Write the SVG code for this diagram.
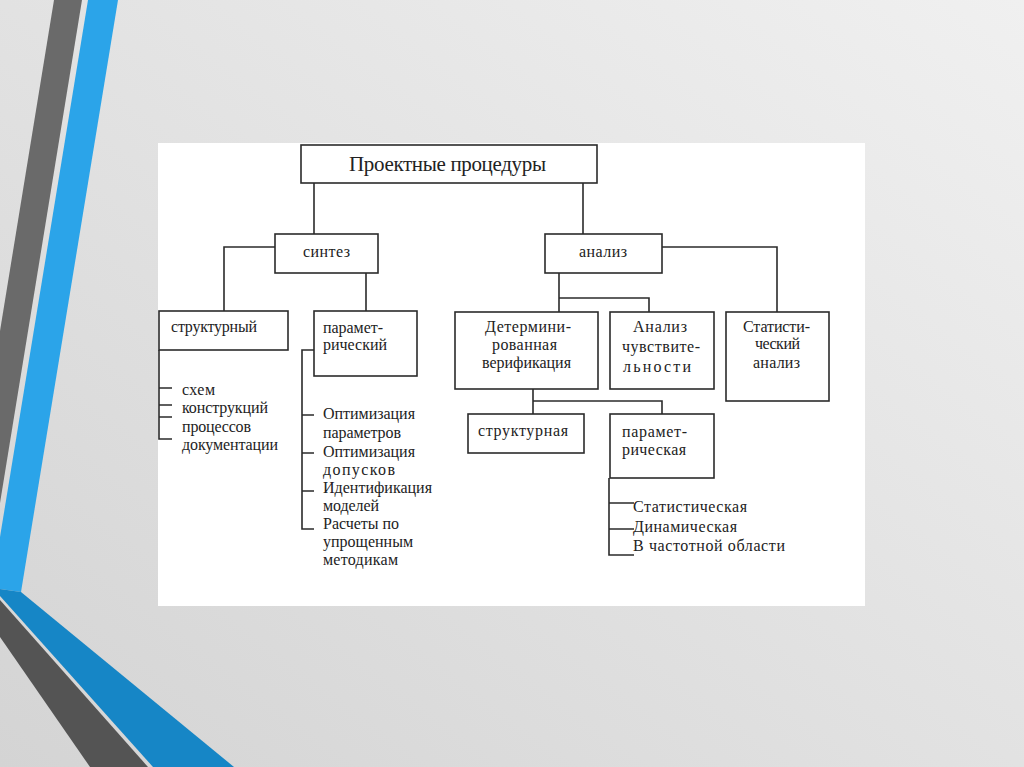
<svg xmlns="http://www.w3.org/2000/svg" width="1024" height="767" viewBox="0 0 1024 767">
<defs>
<linearGradient id="bg" x1="1" y1="0" x2="0" y2="1">
<stop offset="0" stop-color="#f0f0f0"/>
<stop offset="1" stop-color="#d4d4d4"/>
</linearGradient>
<style>
.box{fill:#fff;stroke:#2b2b2b;stroke-width:1.6}
.ln{fill:none;stroke:#2b2b2b;stroke-width:1.6}
text{font-family:'Liberation Serif','DejaVu Serif',serif;font-size:16px;fill:#222}
.t{font-size:21px}
</style>
</defs>
<rect width="1024" height="767" fill="url(#bg)"/>
<g id="decor">
<polygon points="54,0 82,0 0,503 0,331" fill="#6a6a6a"/>
<polygon points="88,0 118,0 21,592 0,589 0,537" fill="#2ba4e9"/>
<polygon points="0,589 21,592 234,767 153,767 0,596" fill="#1686c6"/>
<polygon points="0,600 148,767 90,767 0,637" fill="#545454"/>
</g>
<rect x="158" y="143" width="707" height="463" fill="#fff"/>
<g id="connectors">
<path class="ln" d="M314,183V234 M583,183V234"/>
<path class="ln" d="M275,247H224V311 M366,273V311"/>
<path class="ln" d="M662,247H777V312 M559,273V312 M559,298H649V312"/>
<path class="ln" d="M533,389V414 M533,401H662V414"/>
<path class="ln" d="M159,350V439H172 M159,388H172 M159,405H172 M159,417H172"/>
<path class="ln" d="M314,350H302V529H314 M302,415H314 M302,453H314 M302,491H314"/>
<path class="ln" d="M609,478V555H634 M609,503H634 M609,529H634"/>
</g>
<g id="n-title"><rect class="box" x="301" y="145" width="296" height="38"/><text class="t" x="349" y="171" textLength="197" font-family="Liberation Serif, DejaVu Serif, serif">Проектные процедуры</text></g>
<g id="n-sintez"><rect class="box" x="275" y="234" width="103" height="39"/><text x="303" y="257" textLength="47">синтез</text></g>
<g id="n-analiz"><rect class="box" x="545" y="234" width="117" height="39"/><text x="579" y="257" textLength="48">анализ</text></g>
<g id="n-struct"><rect class="box" x="159" y="311" width="129" height="39"/><text x="171" y="332" textLength="86">структурный</text></g>
<g id="n-param"><rect class="box" x="314" y="311" width="103" height="65"/><text x="323" y="333" textLength="60">парамет-</text><text x="323" y="350" textLength="64">рический</text></g>
<g id="n-determ"><rect class="box" x="455" y="312" width="143" height="77"/><text x="485" y="332" textLength="86">Детермини-</text><text x="492" y="350" textLength="65">рованная</text><text x="482" y="368" textLength="89">верификация</text></g>
<g id="n-sens"><rect class="box" x="610" y="312" width="104" height="77"/><text x="633" y="332" textLength="54">Анализ</text><text x="622" y="352" textLength="78">чувствите-</text><text x="623" y="372" textLength="68">льности</text></g>
<g id="n-stat"><rect class="box" x="726" y="312" width="103" height="89"/><text x="743" y="332" textLength="67">Статисти-</text><text x="755" y="349" textLength="45">ческий</text><text x="753" y="368" textLength="47">анализ</text></g>
<g id="n-structv"><rect class="box" x="468" y="414" width="116" height="39"/><text x="478" y="436" textLength="90">структурная</text></g>
<g id="n-paramv"><rect class="box" x="610" y="414" width="104" height="64"/><text x="622" y="437" textLength="65">парамет-</text><text x="622" y="455" textLength="64">рическая</text></g>
<g id="l-struct">
<text x="182" y="395" textLength="33">схем</text>
<text x="182" y="413" textLength="86">конструкций</text>
<text x="182" y="432" textLength="69">процессов</text>
<text x="182" y="450" textLength="96">документации</text>
</g>
<g id="l-param">
<text x="323" y="419" textLength="92">Оптимизация</text>
<text x="323" y="438" textLength="78">параметров</text>
<text x="323" y="457" textLength="92">Оптимизация</text>
<text x="323" y="475" textLength="72">допусков</text>
<text x="323" y="493" textLength="109">Идентификация</text>
<text x="323" y="511" textLength="56">моделей</text>
<text x="323" y="529" textLength="76">Расчеты по</text>
<text x="323" y="547" textLength="90">упрощенным</text>
<text x="323" y="565" textLength="75">методикам</text>
</g>
<g id="l-paramv">
<text x="633" y="512" textLength="114">Статистическая</text>
<text x="633" y="532" textLength="104">Динамическая</text>
<text x="633" y="551" textLength="152">В частотной области</text>
</g>
</svg>
